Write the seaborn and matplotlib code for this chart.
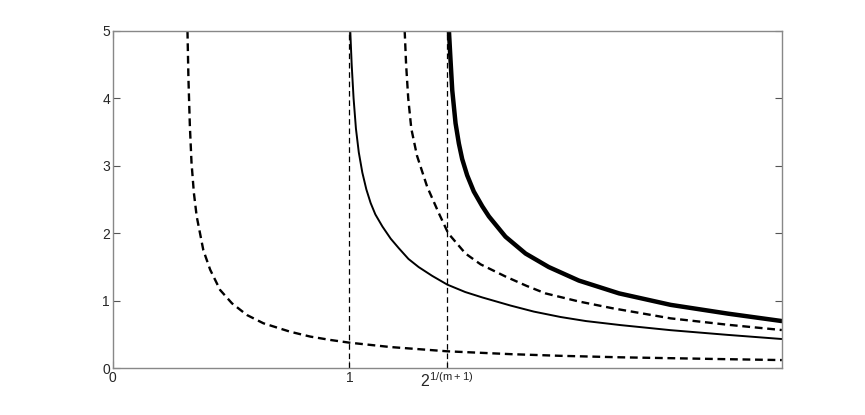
import numpy as np
import pandas as pd
import matplotlib
matplotlib.use("Agg")
import matplotlib.pyplot as plt
import seaborn as sns

# values
# lower dashed curve (asymptote near x = 0.32)
x_low = [0.316, 0.320, 0.326, 0.333, 0.343, 0.355, 0.383, 0.412, 0.454, 0.504,
         0.567, 0.637, 0.75, 0.835, 0.92, 1.0, 1.174, 1.414, 1.681, 1.893,
         2.147, 2.358, 2.6, 2.828]
y_low = [5.0, 4.3, 3.6, 3.05, 2.6, 2.25, 1.75, 1.46, 1.16, 0.963,
         0.79, 0.667, 0.542, 0.47, 0.42, 0.38, 0.315, 0.252, 0.21, 0.185,
         0.163, 0.15, 0.135, 0.122]

# thin solid curve (asymptote at x = 1)
x_thin = [1.004, 1.010, 1.018, 1.028, 1.04, 1.055, 1.072, 1.09, 1.11, 1.14,
          1.175, 1.209, 1.25, 1.293, 1.35, 1.414, 1.49, 1.562, 1.681, 1.78,
          1.893, 2.0, 2.147, 2.358, 2.6, 2.828]
y_thin = [5.0, 4.5, 4.0, 3.55, 3.2, 2.9, 2.65, 2.45, 2.28, 2.1,
          1.92, 1.78, 1.62, 1.50, 1.37, 1.24, 1.13, 1.05, 0.93, 0.84,
          0.76, 0.70, 0.64, 0.565, 0.495, 0.434]

# upper dashed curve
x_mid = [1.234, 1.240, 1.249, 1.262, 1.286, 1.329, 1.378, 1.418, 1.491, 1.555,
         1.66, 1.75, 1.829, 1.97, 2.112, 2.358, 2.6, 2.828]
y_mid = [5.0, 4.5, 4.0, 3.55, 3.15, 2.69, 2.30, 2.0, 1.70, 1.54,
         1.36, 1.22, 1.11, 0.99, 0.89, 0.74, 0.645, 0.567]

# thick solid curve (asymptote at 2^(1/(m+1)))
x_thick = [1.421, 1.428, 1.435, 1.449, 1.463, 1.477, 1.498, 1.526, 1.562, 1.59,
           1.66, 1.745, 1.843, 1.97, 2.14, 2.358, 2.6, 2.828]
y_thick = [5.0, 4.55, 4.12, 3.63, 3.33, 3.1, 2.86, 2.62, 2.40, 2.25,
           1.95, 1.70, 1.50, 1.30, 1.11, 0.94, 0.81, 0.70]

vline_x = [1.0, 1.414]
xtick_pos = [0, 1.0, 1.414]
xtick_labels = ["0", "1", "$2^{1/(m+1)}$"]
ytick_pos = [0, 1, 2, 3, 4, 5]

sns.set_style("white")
plt.rcParams["font.family"] = ["Liberation Sans", "DejaVu Sans"]
plt.rcParams["mathtext.fontset"] = "custom"
plt.rcParams["mathtext.rm"] = "Liberation Sans"
plt.rcParams["mathtext.default"] = "regular"

fig = plt.figure(figsize=(8.65, 4.15), dpi=100)
ax = fig.add_axes([0.1303, 0.1125, 0.7741, 0.8133])

# vertical guides
ax.vlines(vline_x, 0, 5, colors="black", linestyles=(0, (4.5, 3.0)), linewidth=0.9)

df_low = pd.DataFrame({"x": x_low, "y": y_low})
df_thin = pd.DataFrame({"x": x_thin, "y": y_thin})
df_mid = pd.DataFrame({"x": x_mid, "y": y_mid})
df_thick = pd.DataFrame({"x": x_thick, "y": y_thick})

sns.lineplot(data=df_low, x="x", y="y", ax=ax, color="black", linewidth=1.7,
             sort=False, estimator=None, linestyle=(0, (3.3, 2.0)))
sns.lineplot(data=df_thin, x="x", y="y", ax=ax, color="black", linewidth=1.4,
             sort=False, estimator=None)
sns.lineplot(data=df_mid, x="x", y="y", ax=ax, color="black", linewidth=1.7,
             sort=False, estimator=None, linestyle=(0, (3.3, 2.0)))
sns.lineplot(data=df_thick, x="x", y="y", ax=ax, color="black", linewidth=3.2,
             sort=False, estimator=None)

ax.set_xlim(0, 2.83)
ax.set_ylim(0, 5)
ax.set_xticks(xtick_pos)
ax.set_xticklabels(xtick_labels)
ax.set_yticks(ytick_pos)
ax.set_xlabel("")
ax.set_ylabel("")

ax.tick_params(direction="in", length=5, width=0.8, color="#555555",
               top=True, right=True, bottom=True, left=True,
               labelsize=10, pad=2)
ax.get_xticklabels()[2].set_fontsize(11.5)
for s in ax.spines.values():
    s.set_visible(True)
    s.set_color("#888888")
    s.set_linewidth(1.0)

fig.savefig("out.png", dpi=100)
